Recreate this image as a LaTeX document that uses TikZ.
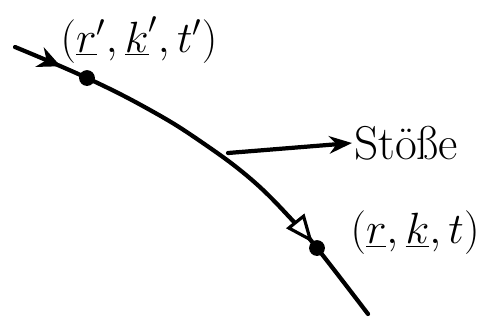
\documentclass[tikz,border=0pt]{standalone}
\usepackage{tikz}
\usepackage{xcolor}
\usetikzlibrary{calc,arrows.meta,positioning,decorations.markings}
\definecolor{penInk}{RGB}{0,0,0}
\newcommand{\Vec}[1]{\underline{#1}}
\tikzset{
  bahn/.style={draw=penInk,line width=2.4pt,line cap=round,postaction={decorate},
    decoration={markings,
      mark=at position 0.11 with {\arrow{Stealth[length=13pt,width=12pt]}},
      mark=at position 0.8 with {\arrow{Triangle[open,fill=white,length=16pt,width=13pt,line width=1.8pt]}}}},
  punkt/.style={circle,fill=penInk,inner sep=0pt,minimum size=9pt},
  etikett/.style={font=\fontsize{23}{27}\selectfont,text=penInk,inner sep=1pt},
  stoss/.style={draw=penInk,line width=2.4pt,line cap=round,-{Stealth[length=13pt,width=10pt]}}
}
\begin{document}
\begin{tikzpicture}[x=0.02cm,y=-0.02cm]
  \useasboundingbox (0,0) rectangle (490,329);
  % Bahnkurve
  \draw[bahn] plot[smooth,tension=0.7] coordinates {(15,47) (87,78) (150,110) (200,141) (252,180) (295,223) (317,248) (368,314)};
  \node[punkt] (alt) at (87,78) {};
  \node[punkt] (neu) at (317,248) {};
  \node[etikett] (altlab) at (139,40) {$(\Vec{r}',\Vec{k}',t')$};
  \node[etikett] (neulab) at (415,233) {$(\Vec{r},\Vec{k},t)$};
  % Stoesse
  \coordinate (stossfuss) at (228,153);
  \node[etikett,anchor=west,font=\fontsize{27}{31}\selectfont] (stoss) at (352,143) {Stöße};
  \draw[stoss] (stossfuss) -- (stoss.west);
\end{tikzpicture}
\end{document}
